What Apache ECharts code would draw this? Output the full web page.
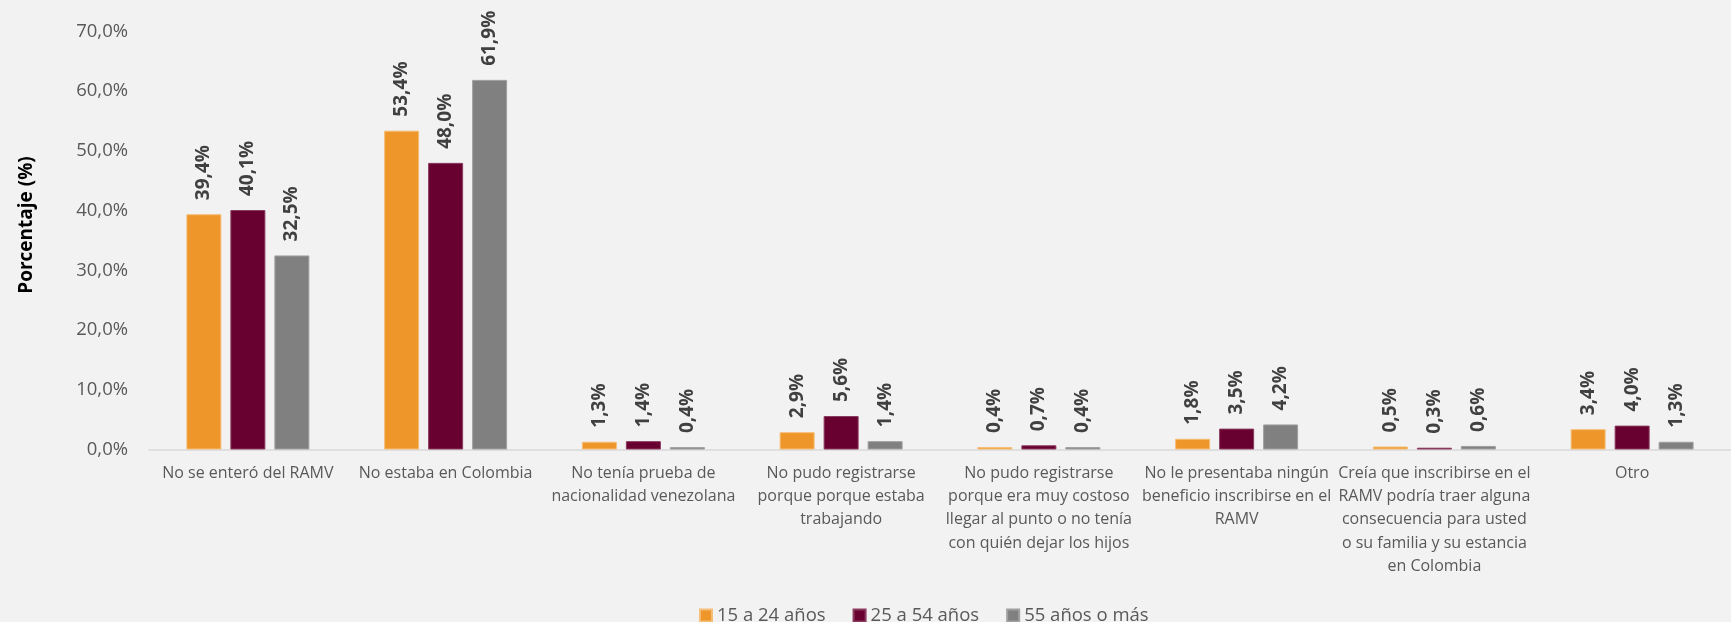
<!DOCTYPE html>
<html>
<head>
<meta charset="utf-8">
<script src="https://cdn.jsdelivr.net/npm/echarts@6/dist/echarts.min.js"></script>
<style>
html,body{margin:0;padding:0;background:#F2F2F2;}
#chart{width:1731px;height:622px;}
</style>
</head>
<body>
<div id="chart"></div>
<script>
const categories = [
  "No se enteró del RAMV",
  "No estaba en Colombia",
  "No tenía prueba de\nnacionalidad venezolana",
  "No pudo registrarse\nporque porque estaba\ntrabajando",
  "No pudo registrarse\nporque era muy costoso\nllegar al punto o no tenía\ncon quién dejar los hijos",
  "No le presentaba ningún\nbeneficio inscribirse en el\nRAMV",
  "Creía que inscribirse en el\nRAMV podría traer alguna\nconsecuencia para usted\no su familia y su estancia\nen Colombia",
  "Otro"
];
const seriesNames = ["15 a 24 años", "25 a 54 años", "55 años o más"];
const age15to24 = [39.4, 53.4, 1.3, 2.9, 0.4, 1.8, 0.5, 3.4];
const age25to54 = [40.1, 48.0, 1.4, 5.6, 0.7, 3.5, 0.3, 4.0];
const age55plus = [32.5, 61.9, 0.4, 1.4, 0.4, 4.2, 0.6, 1.3];
const yTicks = [0, 10, 20, 30, 40, 50, 60, 70];

const colors = ["#EE9629", "#680030", "#808080"];
const borders = ["#F5BE78", "#8A3A5E", "#A0A0A0"];
const FONT = "Open Sans";
const fmt = v => v.toFixed(1).replace('.', ',') + '%';

const chart = echarts.init(document.getElementById('chart'), null, {renderer: 'canvas'});
const dataSets = [age15to24, age25to54, age55plus];

chart.setOption({
  backgroundColor: '#F2F2F2',
  animation: false,
  textStyle: {fontFamily: FONT},
  grid: {left: 149, top: 31.5, width: 1590, height: 418, containLabel: false},
  legend: {
    data: seriesNames,
    left: 694,
    top: 601,
    icon: 'rect',
    itemWidth: 12,
    itemHeight: 12,
    itemGap: 27,
    textStyle: {fontSize: 18.5, color: '#595959', fontFamily: FONT}
  },
  graphic: [{
    type: 'text',
    x: 27, y: 225,
    rotation: Math.PI / 2,
    style: {
      text: 'Porcentaje (%)',
      font: 'bold 19px "Open Sans"',
      fill: '#000000',
      align: 'center',
      verticalAlign: 'middle'
    }
  }],
  xAxis: {
    type: 'category',
    data: categories,
    axisTick: {show: false},
    axisLine: {lineStyle: {color: '#D9D9D9', width: 1.5}},
    axisLabel: {
      interval: 0,
      fontSize: 16,
      lineHeight: 23.3,
      margin: 12,
      color: '#595959',
      fontFamily: FONT,
      align: 'center'
    }
  },
  yAxis: {
    type: 'value',
    min: yTicks[0],
    max: yTicks[yTicks.length - 1],
    interval: 10,
    splitLine: {show: false},
    axisLine: {show: false},
    axisTick: {show: false},
    axisLabel: {
      fontSize: 18.5,
      color: '#595959',
      margin: 21,
      fontFamily: FONT,
      formatter: v => fmt(v)
    }
  },
  series: seriesNames.map((name, i) => ({
    name: name,
    type: 'bar',
    data: dataSets[i],
    barWidth: 35,
    barGap: '25.7%',
    itemStyle: {color: colors[i], borderColor: borders[i], borderWidth: 1},
    label: {
      show: true,
      position: 'top',
      distance: 14,
      rotate: 90,
      align: 'left',
      verticalAlign: 'middle',
      fontSize: 19,
      fontWeight: 'bold',
      color: '#404040',
      fontFamily: FONT,
      formatter: p => fmt(p.value)
    }
  }))
});
</script>
</body>
</html>
